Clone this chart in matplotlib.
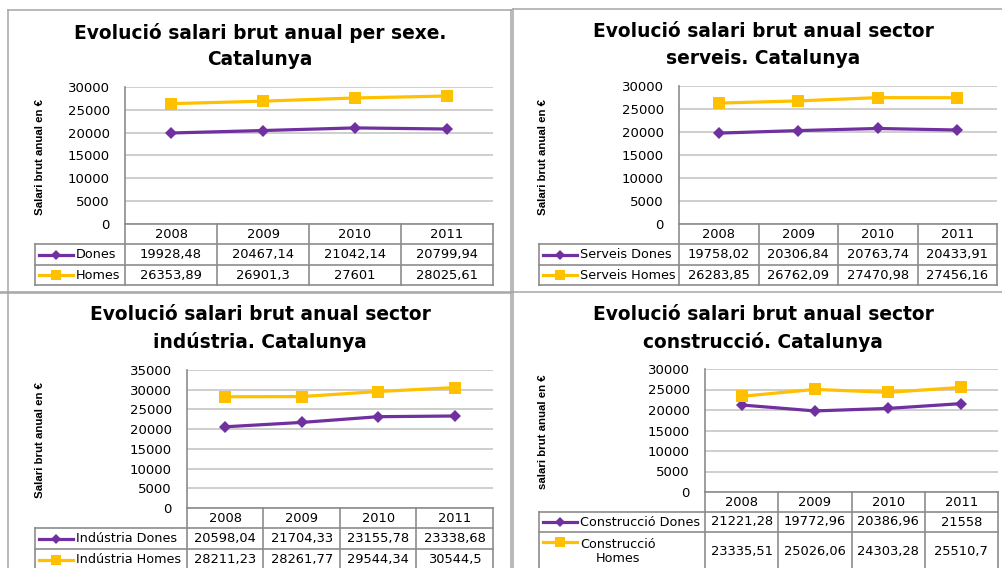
import matplotlib

matplotlib.use("Agg")
import matplotlib.pyplot as plt
from matplotlib.lines import Line2D

W, H = 1003, 568

years = ["2008", "2009", "2010", "2011"]

dones_total = [19928.48, 20467.14, 21042.14, 20799.94]
homes_total = [26353.89, 26901.3, 27601, 28025.61]
serveis_dones = [19758.02, 20306.84, 20763.74, 20433.91]
serveis_homes = [26283.85, 26762.09, 27470.98, 27456.16]
industria_dones = [20598.04, 21704.33, 23155.78, 23338.68]
industria_homes = [28211.23, 28261.77, 29544.34, 30544.5]
construccio_dones = [21221.28, 19772.96, 20386.96, 21558]
construccio_homes = [23335.51, 25026.06, 24303.28, 25510.7]

PURPLE = "#7030A0"
YELLOW = "#FFC000"
GRID = "#C6C6C6"
AXIS = "#8C8C8C"
FRAME = "#A6A6A6"
LABEL_FONT = ["Liberation Sans Narrow", "Liberation Sans", "DejaVu Sans"]

panels = [
    dict(title="Evolució salari brut anual per sexe.\nCatalunya", title_xy=(260, 46),
         plot=(125, 87, 493, 224), table_left=35, rows=[244, 265, 285],
         ylabel="Salari brut anual en €", ylabel_xy=(40, 157), ymax=30000,
         names=["Dones", "Homes"], series=[dones_total, homes_total]),
    dict(title="Evolució salari brut anual sector\nserveis. Catalunya", title_xy=(763, 45),
         plot=(679, 86, 997, 224), table_left=539, rows=[244, 265, 285],
         ylabel="Salari brut anual en €", ylabel_xy=(543, 157), ymax=30000,
         names=["Serveis Dones", "Serveis Homes"], series=[serveis_dones, serveis_homes]),
    dict(title="Evolució salari brut anual sector\nindústria. Catalunya", title_xy=(260, 329),
         plot=(187, 370, 493, 508), table_left=35, rows=[528, 549, 570],
         ylabel="Salari brut anual en €", ylabel_xy=(40, 440), ymax=35000,
         names=["Indústria Dones", "Indústria Homes"], series=[industria_dones, industria_homes]),
    dict(title="Evolució salari brut anual sector\nconstrucció. Catalunya", title_xy=(763, 329),
         plot=(705, 369, 998, 492), table_left=539, rows=[512, 532, 570],
         ylabel="salari brut anual en €", ylabel_xy=(543, 432), ymax=30000,
         names=["Construcció Dones", "Construcció\nHomes"],
         series=[construccio_dones, construccio_homes]),
]

STYLES = [dict(color=PURPLE, marker="D", markersize=5.8),
          dict(color=YELLOW, marker="s", markersize=8.5)]


def fmt(v):
    s = f"{v:.2f}".rstrip("0").rstrip(".")
    return s.replace(".", ",")


def px_rect(x0, y0, x1, y1):
    return [x0 / W, 1 - y1 / H, (x1 - x0) / W, (y1 - y0) / H]


fig = plt.figure(figsize=(W / 100, H / 100), dpi=100)

# panel frames
for xs, ys in [((8, 8), (10, 568)), ((8, 511), (10, 10)), ((511, 511), (10, 568)),
               ((513, 513), (9, 568)), ((513, 1003), (9, 9)), ((0, 1003), (292, 292)),
               ((0, 511), (293, 293))]:
    fig.add_artist(Line2D([x / W for x in xs], [1 - y / H for y in ys],
                          color=FRAME, lw=1.1))

for p in panels:
    x0, y0, x1, y1 = p["plot"]
    ax = fig.add_axes(px_rect(x0, y0, x1, y1))
    xs = range(len(years))
    for vals, st in zip(p["series"], STYLES):
        ax.plot(xs, vals, color=st["color"], lw=2.3, marker=st["marker"],
                markersize=st["markersize"], markeredgewidth=0, zorder=3)
    ax.set_xlim(-0.5, len(years) - 0.5)
    ax.set_ylim(0, p["ymax"])
    ax.set_yticks(range(0, p["ymax"] + 1, 5000))
    ax.set_xticks([])
    ax.tick_params(axis="y", length=0, pad=11, labelsize=9.5)
    ax.yaxis.grid(True, color=GRID, lw=1.2)
    ax.set_axisbelow(True)
    for side in ("top", "right", "bottom"):
        ax.spines[side].set_visible(False)
    ax.spines["left"].set_color(AXIS)
    ax.spines["left"].set_linewidth(1.2)

    fig.text(p["title_xy"][0] / W, 1 - p["title_xy"][1] / H, p["title"],
             ha="center", va="center", fontsize=13.4, fontweight="bold",
             linespacing=1.5)
    fig.text(p["ylabel_xy"][0] / W, 1 - p["ylabel_xy"][1] / H, p["ylabel"],
             ha="center", va="center", rotation=90, fontsize=8.2,
             fontweight="bold", family=LABEL_FONT)

    # data table under the plot
    left = p["table_left"]
    rows = p["rows"]
    bottom = rows[-1]
    colw = (x1 - x0) / len(years)
    lw_units = (x0 - left) / colw
    tax = fig.add_axes(px_rect(left, y1, x1, bottom))
    tax.set_xlim(-0.5 - lw_units, len(years) - 0.5)
    tax.set_ylim(bottom - y1, 0)
    tax.axis("off")
    hgt = bottom - y1
    lx = -0.5 - lw_units
    line_kw = dict(color=AXIS, lw=1.2, clip_on=False)
    tax.plot([-0.5, len(years) - 0.5], [0, 0], **line_kw)
    for r in rows:
        tax.plot([lx, len(years) - 0.5], [r - y1, r - y1], **line_kw)
    tax.plot([lx, lx], [rows[0] - y1, hgt], **line_kw)
    for i in range(len(years) + 1):
        tax.plot([i - 0.5, i - 0.5], [0, hgt], **line_kw)
    hc = (rows[0] - y1) / 2
    for i, yr in enumerate(years):
        tax.text(i, hc, yr, ha="center", va="center", fontsize=9.4)
    tops = [rows[0]] + rows[1:-1]
    for k, (name, vals, st) in enumerate(zip(p["names"], p["series"], STYLES)):
        rt, rb = tops[k] - y1, rows[k + 1] - y1
        rc = (rt + rb) / 2
        ky = rt + 10 if "\n" in name else rc
        k0 = lx + 4 / colw
        k1 = lx + 38 / colw
        tax.plot([k0, k1], [ky, ky], color=st["color"], lw=2.3, clip_on=False)
        tax.plot([(k0 + k1) / 2], [ky], color=st["color"], marker=st["marker"],
                 markersize=st["markersize"] - 0.8, markeredgewidth=0, clip_on=False)
        tax.text(lx + 41 / colw, rc, name, ha="left", va="center", fontsize=9.2,
                 multialignment="center", linespacing=1.1)
        for i, v in enumerate(vals):
            tax.text(i, rc, fmt(v), ha="center", va="center", fontsize=9.4)

fig.savefig("out.png", dpi=100)
